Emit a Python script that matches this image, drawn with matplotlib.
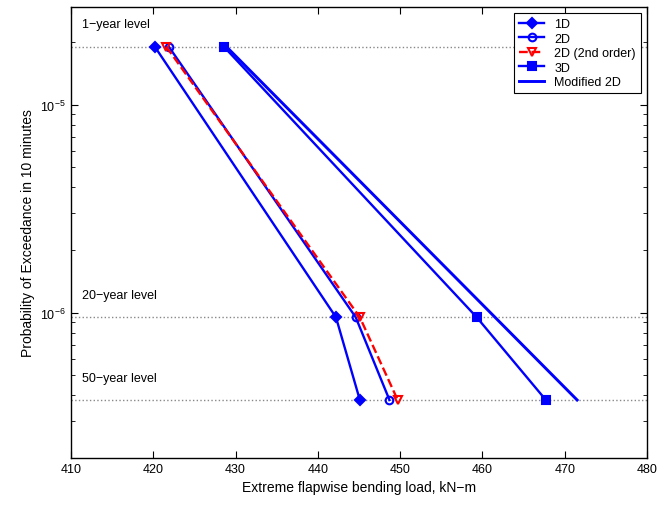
"""Exceedance probability vs. extreme flapwise bending load (1D/2D/3D)."""

import matplotlib

matplotlib.use("Agg")
import matplotlib.pyplot as plt  # noqa: E402
from matplotlib.ticker import LogLocator, NullFormatter  # noqa: E402

plt.rcParams["font.family"] = ["Liberation Sans", "DejaVu Sans"]

# return-period levels (probability of exceedance in 10 minutes)
level_names = ["1\u2212year level", "20\u2212year level", "50\u2212year level"]
level_probs = [1.9e-5, 9.5e-7, 3.8e-7]

# extreme loads (kN-m) at each level
load_1d = [420.2, 442.2, 445.1]
load_2d = [421.9, 444.6, 448.7]
load_2d_2nd = [421.6, 445.1, 449.7]
load_3d = [428.6, 459.3, 467.7]
# modified 2D: drawn between the 1-year and 50-year levels only
mod2d_probs = [1.9e-5, 3.8e-7]
load_mod2d = [428.9, 471.5]

BLUE = "#0000ff"
RED = "#ff0000"

fig = plt.figure(figsize=(6.63, 5.06), dpi=100)
ax = fig.add_axes([0.107, 0.093, 0.869, 0.891])

for p in level_probs:
    ax.axhline(p, color="#888888", linestyle=":", linewidth=1.0, zorder=1)
for name, p in zip(level_names, level_probs):
    ax.text(411.3, p * 1.2, name, fontsize=9, ha="left", va="bottom")

mk = dict(markersize=5.5, markeredgewidth=1.5, linewidth=1.7)
ax.plot(load_1d, level_probs, color=BLUE, marker="D", markerfacecolor=BLUE,
        markersize=5, markeredgewidth=1.5, linewidth=1.7, label="1D")
ax.plot(load_2d, level_probs, color=BLUE, marker="o", markerfacecolor="none",
        label="2D", **mk)
ax.plot(load_2d_2nd, level_probs, color=RED, marker="v", linestyle="--",
        markerfacecolor="none", label="2D (2nd order)", **mk)
ax.plot(load_3d, level_probs, color=BLUE, marker="s", markerfacecolor=BLUE,
        label="3D", **mk)
ax.plot(load_mod2d, mod2d_probs, color=BLUE, linewidth=2.1, label="Modified 2D")

ax.set_yscale("log")
ax.set_xlim(410, 480)
ax.set_ylim(2.0e-7, 2.95e-5)
ax.set_xticks(range(410, 481, 10))
ax.yaxis.set_major_locator(LogLocator(base=10, numticks=10))
ax.yaxis.set_minor_locator(LogLocator(base=10, subs=range(2, 10), numticks=10))
ax.yaxis.set_minor_formatter(NullFormatter())
ax.tick_params(which="both", direction="in", top=True, right=True, labelsize=9)
ax.tick_params(which="major", length=5)
ax.tick_params(which="minor", length=3)
for s in ax.spines.values():
    s.set_linewidth(1.0)

ax.set_xlabel("Extreme flapwise bending load, kN\u2212m", fontsize=10)
ax.set_ylabel("Probability of Exceedance in 10 minutes", fontsize=10)

leg = ax.legend(loc="upper right", fontsize=9, fancybox=False, framealpha=1,
                edgecolor="black", handlelength=2.0, borderaxespad=0.5,
                labelspacing=0.2)
leg.get_frame().set_linewidth(0.8)

fig.savefig("out.png", dpi=100)
